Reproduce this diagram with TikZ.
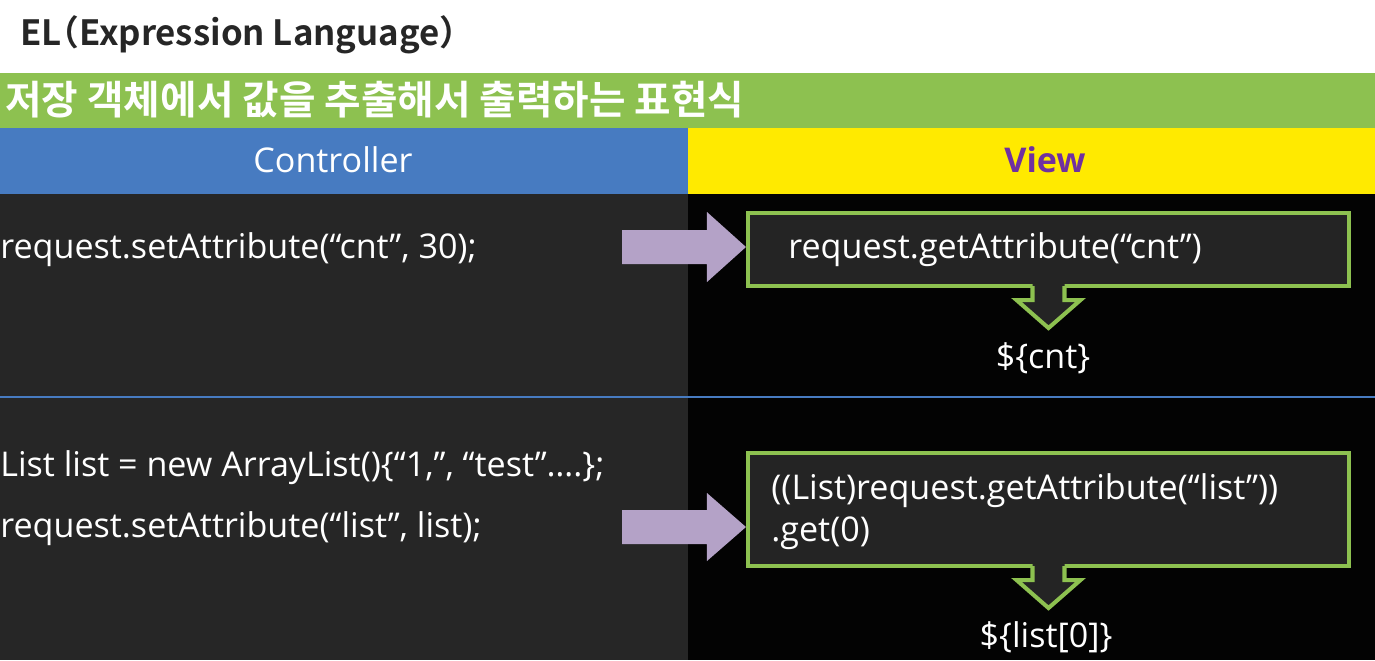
\documentclass[tikz,border=0pt]{standalone}
\usepackage{fontspec}
\setmainfont{Open Sans}
\newfontfamily\krfont{Noto Sans CJK KR}[BoldFont={Noto Sans CJK KR Bold}]
\newfontfamily\krtitle{Noto Sans CJK KR}[BoldFont={Noto Sans CJK KR Bold}, RawFeature=+halt]
\usetikzlibrary{fit,calc}
\definecolor{elgreen}{RGB}{141,193,80}
\definecolor{elblue}{RGB}{71,123,193}
\definecolor{elyellow}{RGB}{255,234,0}
\definecolor{leftbg}{RGB}{38,38,38}
\definecolor{rightbg}{RGB}{3,3,3}
\definecolor{boxbg}{RGB}{36,36,36}
\definecolor{purp}{RGB}{180,162,199}
\definecolor{titlecol}{RGB}{38,38,38}
\definecolor{viewcol}{RGB}{112,48,160}
\tikzset{
  codetext/.style={text=white, inner sep=0pt, font=\fontsize{19.4}{23}\selectfont},
  greenbox/.style={draw=elgreen, line width=2.3pt, fill=boxbg, inner sep=0pt},
  blockarrow/.style={fill=purp},
}
\begin{document}
\begin{tikzpicture}[x=0.02cm,y=-0.02cm]
\useasboundingbox (0,0) rectangle (1375,660);
% backgrounds
\fill[white] (0,0) rectangle (1375,73);
\fill[elgreen] (0,73) rectangle (1375,128);
\fill[elblue] (0,128) rectangle (688,194);
\fill[elyellow] (688,128) rectangle (1375,194);
\fill[leftbg] (0,194) rectangle (688,660);
\fill[rightbg] (688,194) rectangle (1375,660);
\draw[elblue, line width=0.7pt] (0,397) -- (1375,397);

% title and headings
\node[anchor=base west, inner sep=0pt, text=titlecol, font=\krtitle\bfseries\fontsize{19.8}{24}\selectfont] (title) at (20,45) {EL（Expression Language）};
\node[anchor=base west, inner sep=0pt, text=white, font=\krfont\bfseries\fontsize{22.6}{26}\selectfont] (sub) at (5,114) {저장 객체에서 값을 추출해서 출력하는 표현식};
\node[anchor=base, inner sep=0pt, text=white, font=\fontsize{19.4}{23}\selectfont] (ctrl) at (333,172) {Controller};
\node[anchor=base, inner sep=0pt, text=viewcol, font=\bfseries\fontsize{19.4}{23}\selectfont] (view) at (1045,172) {View};

% green boxes
\node[greenbox, fit={(748,213) (1349,286)}] (box1) {};
\node[greenbox, fit={(748,453) (1349,566)}] (box2) {};

% down arrows merged with boxes
\foreach \b in {box1,box2}{
  \fill[boxbg] ($(\b.south)+(-16,-5)$) -- ($(\b.south)+(-16,12)$) -- ($(\b.south)+(-32,12)$) -- ($(\b.south)+(0,40)$) -- ($(\b.south)+(32,12)$) -- ($(\b.south)+(16,12)$) -- ($(\b.south)+(16,-5)$) -- cycle;
  \draw[elgreen, line width=2.3pt, line join=miter] ($(\b.south)+(-16,-2)$) -- ($(\b.south)+(-16,12)$) -- ($(\b.south)+(-32,12)$) -- ($(\b.south)+(0,40)$) -- ($(\b.south)+(32,12)$) -- ($(\b.south)+(16,12)$) -- ($(\b.south)+(16,-2)$);
}

% controller texts
\node[codetext, anchor=base west] (c1) at (0,258) {request.setAttribute(“cnt”, 30);};
\node[codetext, anchor=base west] (c2) at (0,476) {List list = new ArrayList()\{“1,”, “test”….\};};
\node[codetext, anchor=base west] (c3) at (0,537) {request.setAttribute(“list”, list);};

% view texts
\node[codetext, anchor=base west] (v1) at (788,258) {request.getAttribute(“cnt”)};
\node[codetext, anchor=base west] (v2) at (771,499) {((List)request.getAttribute(“list”))};
\node[codetext, anchor=base west] (v3) at (771,541) {.get(0)};
\node[codetext, anchor=base] (el1) at (1043,368) {\$\{cnt\}};
\node[codetext, anchor=base] (el2) at (1046,647) {\$\{list[0]\}};

% purple block arrows into boxes
\coordinate (p1) at (622,247);
\coordinate (p2) at (622,527);
\fill[blockarrow] ($(p1)+(0,-17)$) -- ($(box1.west|-p1)+(-39,-17)$) -- ($(box1.west|-p1)+(-39,-35)$) -- (box1.west|-p1) -- ($(box1.west|-p1)+(-39,35)$) -- ($(box1.west|-p1)+(-39,17)$) -- ($(p1)+(0,17)$) -- cycle;
\fill[blockarrow] ($(p2)+(0,-17)$) -- ($(box2.west|-p2)+(-39,-17)$) -- ($(box2.west|-p2)+(-39,-34)$) -- (box2.west|-p2) -- ($(box2.west|-p2)+(-39,34)$) -- ($(box2.west|-p2)+(-39,17)$) -- ($(p2)+(0,17)$) -- cycle;
\end{tikzpicture}
\end{document}
